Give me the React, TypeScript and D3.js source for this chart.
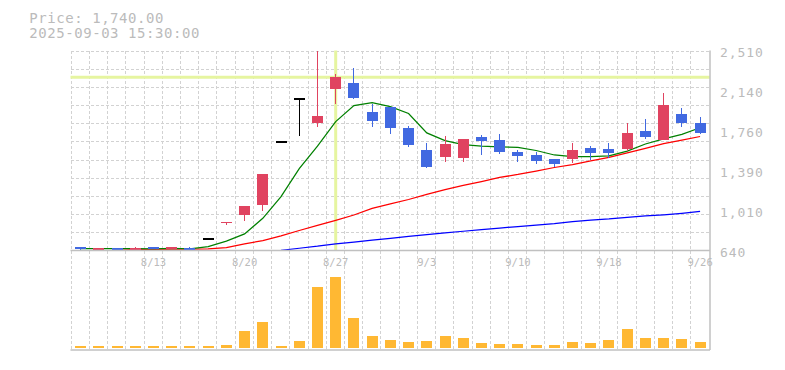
import React from "react";
import * as d3 from "d3";

const dates = [
  "8/6", "8/7", "8/8", "8/12", "8/13", "8/14", "8/15", "8/18", "8/19", "8/20",
  "8/21", "8/22", "8/25", "8/26", "8/27", "8/28", "8/29", "9/1", "9/2", "9/3",
  "9/4", "9/5", "9/8", "9/9", "9/10", "9/11", "9/12", "9/16", "9/17", "9/18",
  "9/19", "9/22", "9/24", "9/25", "9/26",
];
const opens = [
  673, 645, 663, 648, 673, 654, 663, 750, 900, 971,
  1065, 1655, 2055, 1835, 2153, 2206, 1935, 1982, 1785, 1580,
  1517, 1508, 1698, 1673, 1561, 1533, 1495, 1495, 1595, 1586,
  1586, 1757, 1676, 1916, 1832,
];
const highs = [
  673, 663, 663, 676, 673, 673, 676, 750, 905, 1055,
  1355, 1655, 2055, 2510, 2288, 2346, 2011, 1985, 1804, 1648,
  1708, 1683, 1720, 1729, 1580, 1558, 1498, 1645, 1617, 1645,
  1832, 1867, 2113, 1972, 1888,
];
const lows = [
  647, 645, 645, 645, 654, 654, 645, 750, 880, 920,
  1010, 1655, 1715, 1797, 2013, 2054, 1798, 1732, 1611, 1414,
  1470, 1470, 1536, 1545, 1470, 1452, 1424, 1461, 1489, 1508,
  1570, 1685, 1670, 1798, 1726,
];
const closes = [
  654, 663, 645, 663, 654, 673, 645, 750, 905, 1055,
  1355, 1655, 2055, 1900, 2262, 2069, 1854, 1788, 1629, 1424,
  1636, 1683, 1667, 1564, 1526, 1480, 1452, 1580, 1555, 1552,
  1739, 1704, 2000, 1835, 1740,
];
const volumes = [
  17, 17, 17, 17, 17, 17, 17, 17, 27, 170,
  260, 20, 70, 607, 710, 300, 120, 80, 60, 70,
  120, 100, 50, 40, 40, 30, 30, 60, 50, 80,
  190, 100, 100, 90, 60,
];
const ma5 = [
  658, 658, 657, 658, 656, 660, 656, 677, 728, 795,
  941, 1144, 1405, 1615, 1845, 1995, 2022, 1985, 1921, 1740,
  1668, 1631, 1617, 1610, 1605, 1575, 1533, 1517, 1517, 1524,
  1570, 1636, 1683, 1725, 1788,
];
const ma25: (number | null)[] = [
  null, null, 642, 649, 650, 652, 652, 655, 668, 701,
  733, 777, 827, 874, 921, 972, 1033, 1075, 1117, 1164,
  1210, 1248, 1285, 1323, 1351, 1383, 1416, 1444, 1477, 1510,
  1552, 1594, 1640, 1673, 1706,
];
const ma75: (number | null)[] = [
  null, null, null, null, null, null, null, null, null, null,
  null, 641, 661, 680, 703, 719, 738, 754, 771, 788,
  804, 820, 836, 850, 864, 878, 892, 911, 925, 935,
  949, 963, 974, 988, 1005,
];
const xTickDates = ["8/13", "8/20", "8/27", "9/3", "9/10", "9/18", "9/26"];
const yTickValues = [2510, 2136, 1762, 1388, 1014, 640];
const yTickLabels = ["2,510", "2,140", "1,760", "1,390", "1,010", "640"];
const headerPrice = "Price: 1,740.00";
const headerTime = "2025-09-03 15:30:00";
const crossDate = "8/27";
const crossPrice = 2259;

const UP = "#e04360";
const DOWN = "#4169e1";
const DOJI = "#000000";
const VOL = "#ffb833";
const GRID = "#d2d2d2";
const AXIS = "#c0c0c0";
const TEXT = "#bbbbbb";
const CROSS = "#e6f5a0";
const FONT = "'DejaVu Sans Mono', monospace";

export default function App() {
  const W = 785;
  const H = 370;
  const left = 70.5;
  const right = 710;
  const top = 50.5;
  const priceBottom = 250.5;
  const volBottom = 350;

  const x = d3
    .scaleBand<number>()
    .domain(d3.range(dates.length))
    .range([71.5, 709.2]);
  const bw = x.bandwidth();
  const cx = (i: number) => (x(i) as number) + bw / 2;
  const y = d3.scaleLinear().domain([640, 2510]).range([priceBottom, top]);
  const vy = d3
    .scaleLinear()
    .domain([0, d3.max(volumes) as number])
    .range([347.7, 276.7]);

  const bodyW = 11;
  const nH = 11;
  const hGrid = d3.range(0, nH).map((k) => top + (k * (priceBottom - top)) / nH);
  const vGrid = d3.range(0, dates.length).map((i) => (x(i) as number) - 0.8);

  const lineGen = d3
    .line<number | null>()
    .defined((v) => v != null)
    .x((_, i) => cx(i))
    .y((v) => y(v as number));

  const crossI = dates.indexOf(crossDate);

  return (
    <div style={{ position: "absolute", left: 0, top: 0 }}>
      <svg width={W} height={H} style={{ display: "block", background: "#fff" }}>
        {/* header */}
        <text x={29.3} y={22.7} fill={TEXT} fontFamily={FONT} fontSize={14} letterSpacing={0.55}>
          {headerPrice}
        </text>
        <text x={29.3} y={38.3} fill={TEXT} fontFamily={FONT} fontSize={14} letterSpacing={0.55}>
          {headerTime}
        </text>

        {/* grid */}
        <g stroke={GRID} strokeWidth={1} strokeDasharray="3,2" shapeRendering="crispEdges">
          {hGrid.map((gy, k) => (
            <line key={"h" + k} x1={left} x2={right} y1={Math.round(gy) + 0.5} y2={Math.round(gy) + 0.5} />
          ))}
          {vGrid.map((gx, k) => (
            <line key={"v" + k} x1={Math.round(gx) + 0.5} x2={Math.round(gx) + 0.5} y1={top} y2={volBottom} />
          ))}
        </g>

        {/* crosshair */}
        <g stroke={CROSS} strokeWidth={3}>
          <line x1={left} x2={right} y1={y(crossPrice)} y2={y(crossPrice)} />
          <line x1={cx(crossI)} x2={cx(crossI)} y1={top} y2={priceBottom} />
        </g>

        {/* moving averages */}
        <path d={lineGen(ma75) || ""} fill="none" stroke="#0000ff" strokeWidth={1.25} />
        <path d={lineGen(ma25) || ""} fill="none" stroke="#ff0000" strokeWidth={1.25} />
        <path d={lineGen(ma5) || ""} fill="none" stroke="#008000" strokeWidth={1.25} />

        {/* candles */}
        {dates.map((d, i) => {
          const o = opens[i];
          const c = closes[i];
          const color = c > o ? UP : c < o ? DOWN : DOJI;
          const wx = Math.floor(cx(i)) + 0.5;
          const yTop = y(Math.max(o, c));
          const yBot = y(Math.min(o, c));
          return (
            <g key={d} shapeRendering="crispEdges">
              <line x1={wx} x2={wx} y1={y(highs[i])} y2={y(lows[i])} stroke={color} strokeWidth={1} />
              {c === o ? (
                <line x1={cx(i) - bodyW / 2} x2={cx(i) + bodyW / 2} y1={yTop} y2={yTop} stroke={color} strokeWidth={2} />
              ) : (
                <rect x={cx(i) - bodyW / 2} y={yTop} width={bodyW} height={Math.max(1, yBot - yTop)} fill={color} />
              )}
            </g>
          );
        })}

        {/* volume */}
        {volumes.map((v, i) => (
          <rect
            key={"vol" + i}
            x={cx(i) - bodyW / 2}
            y={vy(v)}
            width={bodyW}
            height={vy(0) - vy(v)}
            fill={VOL}
            shapeRendering="crispEdges"
          />
        ))}

        {/* axes frame */}
        <g stroke={AXIS} strokeWidth={1.5}>
          <line x1={left} x2={right} y1={priceBottom} y2={priceBottom} />
          <line x1={left} x2={right} y1={volBottom} y2={volBottom} />
          <line x1={right} x2={right} y1={top} y2={volBottom} />
        </g>

        {/* y tick labels */}
        {yTickValues.map((v, k) => (
          <text key={"yt" + k} x={720} y={y(v) + 6.8} fill={TEXT} fontFamily={FONT} fontSize={13} letterSpacing={0.9}>
            {yTickLabels[k]}
          </text>
        ))}

        {/* x tick labels */}
        {xTickDates.map((d) => (
          <text key={"xt" + d} x={cx(dates.indexOf(d))} y={266} fill={TEXT} fontFamily={FONT} fontSize={10.5} textAnchor="middle">
            {d}
          </text>
        ))}
      </svg>
    </div>
  );
}
